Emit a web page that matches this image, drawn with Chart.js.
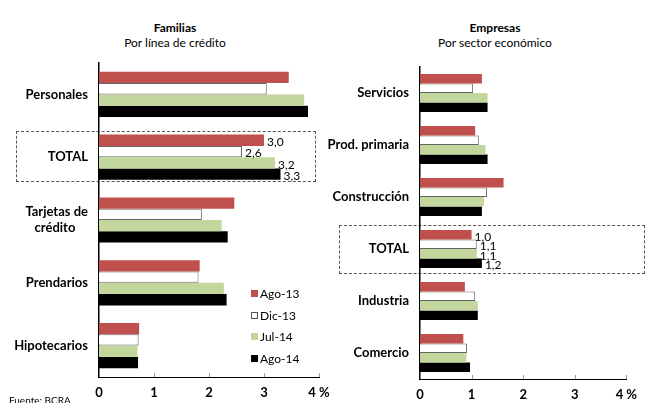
<!DOCTYPE html>
<html>
<head>
<meta charset="utf-8">
<script src="https://cdn.jsdelivr.net/npm/chart.js@4.4.0/dist/chart.umd.min.js"></script>
<style>
	body { margin: 0; background: #fff; font-family: Lato, "Open Sans", sans-serif; }
	#page { position: relative; width: 645px; height: 403px; overflow: hidden; }
	.wrap { position: absolute; top: 0; }
	.ttl { position: absolute; width: 240px; text-align: center; font-size: 12px; color: #000; line-height: 15px; }
	.ttl b { display: block; }
	.box { position: absolute; border: 1px dashed #555; }
	.leg { position: absolute; left: 251px; font-size: 12px; line-height: 14px; }
	.leg div { height: 21.5px; }
	.leg span { display: inline-block; width: 7px; height: 7px; margin-right: 2px; vertical-align: 1px; box-sizing: border-box; }
	#src { position: absolute; left: 9px; top: 394px; font-size: 10px; }
</style>
</head>
<body>
<div id="page">
	<div class="ttl" style="left:55px; top:20px"><b>Familias</b>Por línea de crédito</div>
	<div class="ttl" style="left:375px; top:20px"><b>Empresas</b>Por sector económico</div>
	<div class="box" style="left:16px; top:131px; width:298px; height:49px"></div>
	<div class="box" style="left:339px; top:225px; width:304px; height:47px"></div>
	<div class="wrap" style="left:0; width:345px; height:403px"><canvas id="famChart" width="345" height="403"></canvas></div>
	<div class="wrap" style="left:320px; width:325px; height:403px"><canvas id="empChart" width="325" height="403"></canvas></div>
	<div class="leg" style="top:287px">
		<div><span style="background:#C0504D"></span>Ago-13</div>
		<div><span style="background:#fff; border:1px solid #555"></span>Dic-13</div>
		<div><span style="background:#C3D69B"></span>Jul-14</div>
		<div><span style="background:#000"></span>Ago-14</div>
	</div>
	<div id="src">Fuente: BCRA</div>
</div>
<script>
// series labels
const SERIES = ['Ago-13', 'Dic-13', 'Jul-14', 'Ago-14'];
const COLORS = ['#C0504D', '#FFFFFF', '#C3D69B', '#000000'];
const xTicks = [0, 1, 2, 3, 4];

// Familias - por linea de credito
const famCategories = ['Personales', 'TOTAL', ['Tarjetas de', 'crédito\u00a0\u00a0\u00a0\u00a0'], 'Prendarios', 'Hipotecarios'];
const famAgo13 = [3.45, 3.0, 2.46, 1.83, 0.73];
const famDic13 = [3.05, 2.6, 1.87, 1.81, 0.72];
const famJul14 = [3.73, 3.2, 2.23, 2.27, 0.70];
const famAgo14 = [3.80, 3.3, 2.34, 2.32, 0.71];

// Empresas - por sector economico
const empCategories = ['Servicios', 'Prod. primaria', 'Construcción', 'TOTAL', 'Industria', 'Comercio'];
const empAgo13 = [1.20, 1.07, 1.62, 1.0, 0.87, 0.84];
const empDic13 = [1.03, 1.14, 1.30, 1.1, 1.07, 0.91];
const empJul14 = [1.31, 1.27, 1.24, 1.1, 1.12, 0.90];
const empAgo14 = [1.31, 1.31, 1.20, 1.2, 1.12, 0.97];

const FONT = 'Lato, "Open Sans", sans-serif';

// draws the small tick marks above the x axis and the values of the TOTAL row
const extrasPlugin = {
	id: 'extras',
	afterDatasetsDraw(chart) {
		const ctx = chart.ctx;
		const xs = chart.scales.x;
		const area = chart.chartArea;
		ctx.save();
		ctx.strokeStyle = '#999';
		ctx.lineWidth = 1;
		for (const v of xTicks) {
			if (v == 0) continue;
			const px = Math.round(xs.getPixelForValue(v)) + 0.5;
			ctx.beginPath();
			ctx.moveTo(px, area.bottom);
			ctx.lineTo(px, area.bottom - 4);
			ctx.stroke();
		}
		const idx = chart.data.labels.indexOf('TOTAL');
		ctx.fillStyle = '#000';
		ctx.font = '12px ' + FONT;
		ctx.textBaseline = 'middle';
		chart.data.datasets.forEach((ds, i) => {
			const bar = chart.getDatasetMeta(i).data[idx];
			ctx.fillText(ds.data[idx].toFixed(1).replace('.', ','), bar.x + 3, bar.y + 2);
		});
		ctx.restore();
	}
};

function makeChart(id, labels, values, pad, axisW, axisH, catPct) {
	const ctx = document.getElementById(id).getContext('2d');
	return new Chart(ctx, {
		type: 'bar',
		data: {
			labels: labels,
			datasets: values.map((vals, i) => ({
				label: SERIES[i],
				data: vals,
				backgroundColor: COLORS[i],
				borderColor: i == 1 ? '#666' : COLORS[i],
				borderWidth: i == 1 ? 1 : 0,
				categoryPercentage: catPct,
				barPercentage: 1
			}))
		},
		options: {
			indexAxis: 'y',
			responsive: false,
			animation: false,
			layout: { padding: pad },
			plugins: { legend: { display: false }, tooltip: { enabled: false } },
			scales: {
				x: {
					min: 0,
					max: 4,
					afterFit: (s) => { s.height = axisH; },
					afterBuildTicks: (s) => { s.ticks = xTicks.map((v) => ({ value: v })); },
					grid: { display: false, drawTicks: false },
					border: { display: true, color: '#000', width: 1 },
					ticks: {
						padding: 8,
						color: '#000',
						font: { family: FONT, size: 13, weight: 'bold' },
						callback: (v) => v == 4 ? '4 %' : v
					}
				},
				y: {
					afterFit: (s) => { s.width = axisW; },
					grid: { display: false, drawTicks: false },
					border: { display: true, color: '#000', width: 1.5 },
					ticks: {
						padding: 11,
						color: '#000',
						font: { family: FONT, size: 13, weight: 'bold' }
					}
				}
			}
		},
		plugins: [extrasPlugin]
	});
}

makeChart('famChart', famCategories, [famAgo13, famDic13, famJul14, famAgo14],
	{ top: 63, right: 26, bottom: 0, left: 0 }, 99, 26, 0.72);
makeChart('empChart', empCategories, [empAgo13, empDic13, empJul14, empAgo14],
	{ top: 67, right: 15, bottom: 0, left: 0 }, 100, 24, 0.73);
</script>
</body>
</html>
